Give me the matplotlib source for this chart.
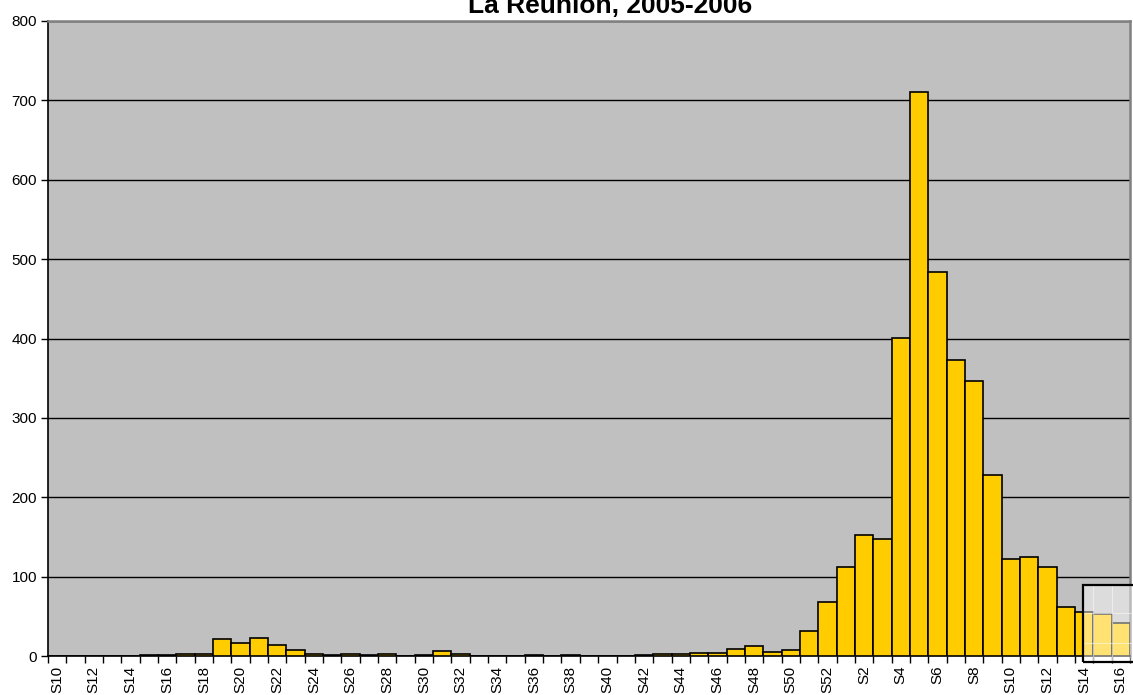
import numpy as np
import matplotlib
matplotlib.use('Agg')
import matplotlib.pyplot as plt
import matplotlib.patches as patches

plt.rcParams['font.family'] = ['Liberation Sans', 'DejaVu Sans']

# weeks S10..S52 of 2005, then S1..S16 of 2006
weeks = [f"S{w}" for w in range(10, 53)] + [f"S{w}" for w in range(1, 17)]
cases = [0, 0, 0, 0, 0, 1, 1, 2, 3, 21,
         17, 23, 14, 8, 3, 1, 3, 1, 2, 0,
         1, 6, 2, 0, 0, 0, 1, 0, 1, 0,
         0, 0, 1, 2, 2, 4, 4, 9, 13, 5,
         7, 31, 68,
         112, 152, 148, 401, 710, 484, 373, 346, 228, 122,
         125, 112, 62, 56, 53, 41]
title = "La Réunion, 2005-2006"

W, H = 1133, 695
fig = plt.figure(figsize=(W / 100, H / 100), dpi=100)
ax = fig.add_axes([48 / W, (H - 656) / H, (1130 - 48) / W, (656 - 21) / H])
ax.set_facecolor('#C0C0C0')

x = np.arange(len(weeks))
ax.bar(x, cases, width=1.0, color='#FFCC00', edgecolor='black', linewidth=1.2, zorder=3)

ax.set_xlim(-0.5, len(weeks) - 0.5)
ax.set_ylim(0, 800)
ax.set_yticks(np.arange(0, 801, 100))
ax.yaxis.grid(True, color='black', linewidth=1.0, zorder=1)
ax.set_axisbelow(True)

# ticks on bar boundaries, labels every other week
ax.set_xticks(np.arange(-0.5, len(weeks), 1.0))
ax.set_xticklabels([])
ax.set_xticks(x[::2], minor=True)
ax.set_xticklabels(weeks[::2], minor=True, rotation=90, fontsize=11)
ax.tick_params(axis='x', which='major', length=5, width=1, direction='out')
ax.tick_params(axis='x', which='minor', length=0, pad=7)
ax.tick_params(axis='y', length=5, width=1, labelsize=11, pad=3)

for s in ['left', 'bottom']:
    ax.spines[s].set_color('black')
    ax.spines[s].set_linewidth(1.2)
for s in ['top', 'right']:
    ax.spines[s].set_color('#808080')
    ax.spines[s].set_linewidth(1.8)

# light box over the last weeks
box = patches.Rectangle((55.95, -7.3), 4.0, 97.3, facecolor='white', alpha=0.45,
                        edgecolor='none', zorder=5, clip_on=False)
ax.add_patch(box)
frame = patches.Rectangle((55.95, -7.3), 4.0, 97.3, facecolor='none',
                          edgecolor='black', linewidth=1.6, zorder=6, clip_on=False)
ax.add_patch(frame)
for gx in [56.5, 57.5]:
    ax.plot([gx, gx], [-7.3, 90], color='white', alpha=0.5, lw=0.8, zorder=5, clip_on=False)
for gy in [54, 17]:
    ax.plot([55.95, 59.9], [gy, gy], color='white', alpha=0.5, lw=0.8, zorder=5, clip_on=False)

# title sits partly above the top edge, as in the source image
fig.text(610 / W, 1 - 13 / H, title, ha='center', va='baseline',
         fontsize=19, fontweight='bold')

fig.savefig('out.png', dpi=100)
